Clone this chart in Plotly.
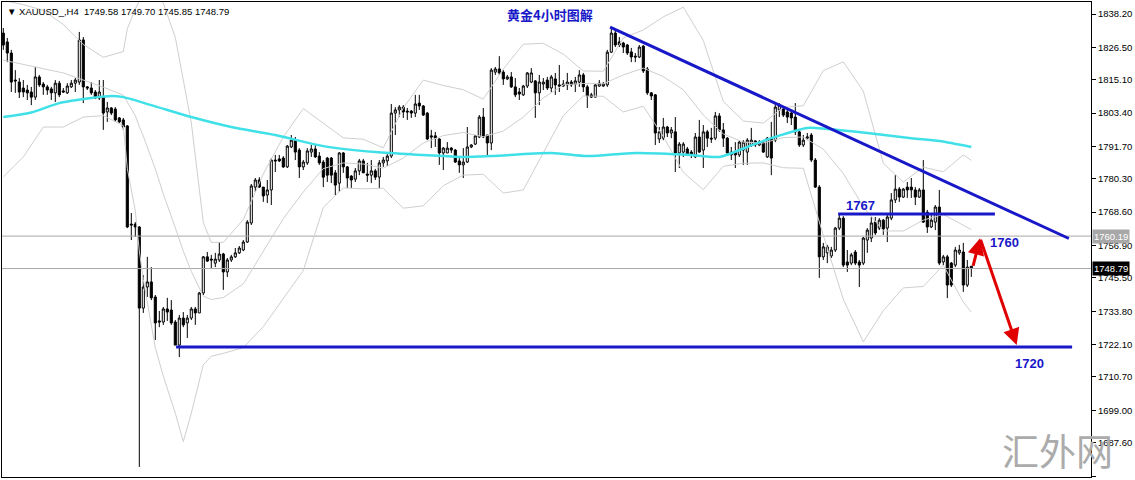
import plotly.graph_objects as go

# ---------------- data ----------------
opens = [1831.5,1828.4,1824.5,1815.0,1814.3,1812.2,1811.5,1810.8,1809.0,1816.1,
1813.6,1812.6,1811.9,1810.5,1813.9,1811.2,1810.5,1812.6,1813.9,1814.3,
1829.1,1812.6,1812.2,1810.8,1808.7,1809.0,1803.8,1805.2,1804.8,1801.7,
1801.0,1798.9,1764.4,1764.4,1763.4,1734.9,1742.3,1744.1,1738.8,1730.4,
1730.0,1734.6,1734.2,1730.0,1721.9,1731.4,1729.7,1731.4,1734.6,1733.2,
1740.2,1752.9,1752.1,1750.7,1751.8,1753.9,1747.6,1751.8,1752.9,1754.3,
1755.3,1758.1,1764.8,1777.4,1779.9,1777.4,1774.6,1776.4,1786.9,1787.3,
1787.6,1784.5,1791.5,1793.9,1790.4,1784.5,1785.9,1789.7,1790.8,1788.3,
1786.2,1787.6,1787.6,1782.4,1778.8,1789.4,1784.5,1781.3,1780.2,1783.1,
1786.6,1782.0,1781.6,1783.1,1780.9,1785.9,1786.6,1788.3,1803.4,1804.5,
1805.5,1804.1,1804.1,1803.4,1806.9,1805.9,1803.4,1795.4,1795.4,1794.3,
1789.4,1789.4,1791.1,1790.4,1786.6,1785.2,1786.2,1791.5,1792.5,1795.0,
1802.0,1795.7,1792.9,1817.8,1818.9,1817.8,1815.4,1816.1,1812.6,1810.8,
1809.8,1812.9,1814.3,1814.7,1810.5,1813.6,1815.0,1812.2,1815.4,1813.3,
1812.9,1813.3,1814.3,1813.6,1814.3,1816.8,1812.6,1809.8,1809.0,1812.9,
1812.9,1813.3,1824.8,1831.5,1828.4,1828.0,1827.3,1824.9,1823.4,1823.1,
1826.9,1818.9,1810.5,1809.8,1794.3,1794.6,1798.5,1796.4,1796.8,1789.4,
1789.7,1790.8,1789.7,1788.0,1795.0,1790.4,1796.8,1794.6,1794.6,1802.4,
1797.5,1794.6,1789.7,1789.7,1788.7,1790.4,1789.7,1792.2,1793.6,1792.2,
1793.2,1788.0,1794.6,1793.9,1804.5,1804.8,1803.8,1803.4,1802.0,1796.8,
1792.2,1794.6,1795.7,1786.9,1777.4,1752.9,1754.3,1753.2,1755.3,1763.0,
1766.5,1751.1,1750.7,1754.6,1751.1,1750.7,1758.8,1759.5,1765.1,1763.0,
1765.8,1763.0,1766.5,1772.9,1776.7,1773.9,1777.4,1777.4,1776.4,1773.9,
1776.4,1768.6,1763.4,1765.1,1770.4,1751.1,1752.9,1750.7,1750.0,1754.3,
1754.6,1743.0,1749.58]
highs = [1833.3,1829.8,1825.6,1818.5,1815.7,1815.0,1813.3,1812.6,1819.6,1816.8,
1814.3,1813.3,1812.6,1815.0,1814.7,1812.2,1813.9,1815.0,1815.7,1831.9,
1830.1,1812.9,1814.3,1811.5,1815.0,1815.0,1807.3,1805.5,1805.5,1802.0,
1801.7,1799.2,1768.3,1765.1,1763.7,1746.5,1752.9,1749.3,1739.5,1733.9,
1735.3,1738.5,1737.7,1730.7,1732.5,1733.5,1732.5,1735.3,1735.3,1740.6,
1753.2,1754.6,1753.6,1754.3,1758.1,1754.3,1752.5,1753.6,1756.0,1756.7,
1758.8,1765.8,1778.5,1780.6,1780.9,1777.4,1779.9,1787.6,1788.7,1788.7,
1788.3,1792.2,1795.7,1795.0,1791.1,1786.9,1791.1,1792.2,1792.2,1789.7,
1786.9,1788.0,1788.0,1783.4,1789.7,1789.7,1784.8,1781.6,1784.1,1787.3,
1787.3,1785.9,1786.9,1783.8,1786.9,1788.0,1789.0,1806.6,1805.5,1806.2,
1806.2,1805.2,1804.5,1809.8,1809.8,1806.2,1803.8,1797.5,1796.8,1794.6,
1791.5,1793.2,1791.5,1790.8,1787.6,1791.1,1798.5,1792.5,1795.7,1802.7,
1805.2,1795.7,1819.2,1819.6,1823.4,1818.5,1816.8,1817.8,1815.7,1812.2,
1813.3,1817.8,1819.2,1815.0,1816.8,1815.7,1816.1,1816.8,1817.5,1820.3,
1815.0,1817.5,1815.0,1816.1,1818.5,1817.5,1813.3,1810.5,1813.6,1815.0,
1814.3,1825.6,1833.6,1832.6,1830.1,1828.4,1827.7,1826.3,1824.5,1827.3,
1827.3,1819.6,1810.8,1810.1,1798.5,1801.7,1798.9,1798.5,1802.0,1793.2,
1793.2,1791.5,1790.4,1796.4,1801.0,1799.2,1797.5,1798.2,1803.8,1803.4,
1799.9,1795.0,1791.5,1793.2,1793.9,1793.9,1794.6,1798.2,1793.9,1793.9,
1793.9,1795.0,1800.3,1807.3,1806.9,1805.2,1804.5,1803.8,1806.9,1797.5,
1795.7,1796.4,1796.4,1787.6,1778.1,1757.8,1757.1,1756.4,1763.4,1767.9,
1767.2,1755.3,1754.3,1755.3,1751.8,1759.9,1763.0,1766.9,1766.9,1766.5,
1766.2,1767.6,1775.3,1781.6,1777.4,1777.1,1779.2,1780.6,1777.4,1777.1,
1786.9,1769.4,1768.3,1771.1,1776.4,1753.6,1753.6,1751.1,1756.4,1757.1,
1757.8,1751.8,1749.70]
lows = [1825.6,1821.3,1810.8,1810.5,1808.7,1809.0,1808.0,1806.2,1808.0,1812.6,
1809.8,1809.8,1808.0,1807.3,1809.0,1810.5,1810.1,1812.2,1810.8,1813.3,
1806.9,1811.5,1809.8,1808.3,1808.0,1797.5,1800.3,1802.7,1800.3,1799.9,
1797.5,1763.0,1758.8,1759.9,1679.1,1733.2,1738.8,1737.7,1723.7,1728.2,
1729.0,1730.4,1729.0,1721.9,1717.7,1728.2,1724.4,1730.7,1729.0,1733.2,
1739.5,1751.1,1749.0,1749.3,1751.1,1741.3,1745.8,1751.1,1752.5,1753.9,
1754.9,1757.8,1764.1,1775.7,1777.1,1772.2,1771.8,1771.1,1782.7,1786.2,
1784.1,1784.1,1791.1,1786.9,1780.6,1783.4,1785.2,1788.0,1787.6,1785.2,
1777.4,1779.2,1778.8,1774.6,1775.7,1782.4,1777.1,1777.1,1779.2,1781.6,
1782.4,1779.2,1778.8,1779.9,1777.1,1784.5,1784.8,1787.6,1795.7,1802.0,
1801.7,1801.0,1801.7,1802.0,1804.5,1802.4,1793.9,1791.1,1791.5,1785.2,
1783.4,1789.4,1789.4,1785.9,1782.4,1780.6,1785.9,1791.1,1792.2,1794.6,
1794.6,1788.0,1790.4,1816.8,1816.8,1813.3,1815.0,1812.2,1809.0,1808.0,
1809.4,1812.2,1813.9,1801.7,1806.2,1811.5,1811.5,1810.8,1809.8,1810.8,
1812.6,1811.5,1812.6,1810.8,1812.6,1810.8,1805.2,1808.7,1809.0,1812.6,
1812.6,1812.6,1824.5,1826.6,1826.6,1824.5,1823.8,1821.3,1821.3,1822.7,
1817.5,1809.8,1808.0,1792.2,1792.9,1793.9,1795.0,1794.6,1782.7,1784.1,
1788.0,1788.7,1787.6,1787.6,1789.4,1784.1,1791.5,1792.9,1793.9,1796.8,
1791.5,1788.7,1786.9,1784.1,1788.0,1785.2,1785.2,1791.5,1791.5,1791.8,
1789.4,1787.6,1781.6,1793.2,1802.0,1802.0,1799.9,1799.2,1795.7,1791.5,
1791.5,1793.9,1786.2,1777.1,1745.5,1751.8,1750.7,1752.5,1754.6,1762.3,
1749.3,1747.6,1750.0,1750.0,1742.3,1750.0,1754.3,1758.1,1760.6,1762.3,
1760.6,1758.1,1765.8,1771.8,1772.2,1773.6,1773.6,1773.6,1771.1,1773.6,
1764.8,1761.3,1763.0,1762.3,1750.0,1750.0,1738.4,1742.3,1749.3,1753.6,
1740.6,1742.3,1745.85]
closes = [1827.3,1824.5,1814.3,1814.7,1810.8,1810.8,1810.5,1809.0,1816.1,1813.3,
1812.6,1811.5,1810.5,1813.9,1809.8,1810.8,1812.9,1813.9,1815.0,1829.1,
1812.6,1812.2,1810.5,1808.7,1810.8,1803.4,1805.2,1803.4,1801.0,1800.3,
1798.5,1763.4,1764.1,1763.4,1734.9,1742.3,1744.1,1738.5,1729.7,1730.0,
1734.6,1733.5,1729.7,1721.9,1731.4,1729.0,1731.4,1734.6,1733.2,1740.2,
1752.9,1751.4,1751.8,1752.1,1753.9,1747.6,1751.8,1752.9,1754.3,1756.0,
1758.1,1765.1,1777.8,1779.9,1777.4,1774.3,1776.4,1786.9,1786.6,1786.6,
1784.5,1791.8,1793.9,1789.7,1784.5,1786.2,1790.1,1790.8,1788.0,1785.9,
1780.9,1781.6,1781.6,1778.1,1789.4,1784.5,1780.6,1779.9,1783.1,1786.6,
1782.4,1781.6,1783.1,1780.9,1785.9,1786.9,1788.3,1803.4,1804.5,1805.5,
1803.8,1803.8,1803.4,1806.6,1805.9,1802.7,1794.3,1795.0,1794.6,1789.4,
1791.1,1791.1,1790.4,1786.2,1785.2,1786.2,1791.5,1792.2,1795.4,1802.0,
1795.0,1792.9,1818.5,1818.9,1817.5,1815.4,1816.1,1812.6,1809.8,1810.1,
1812.9,1817.5,1817.5,1810.5,1814.3,1814.3,1812.2,1816.1,1813.3,1812.9,
1813.6,1814.3,1813.3,1814.7,1816.8,1812.6,1809.4,1809.0,1813.3,1813.9,
1813.6,1824.8,1831.5,1827.3,1827.3,1826.6,1824.5,1823.1,1823.1,1826.6,
1818.2,1810.5,1809.4,1796.4,1796.8,1798.5,1796.4,1797.5,1789.4,1792.5,
1792.5,1789.0,1788.7,1795.0,1789.7,1796.8,1794.6,1794.3,1802.4,1797.5,
1794.6,1789.4,1788.7,1788.7,1793.2,1793.2,1793.9,1793.9,1792.2,1793.2,
1789.7,1794.6,1787.6,1805.5,1806.2,1802.7,1802.0,1801.7,1796.8,1792.2,
1793.9,1795.0,1786.9,1777.4,1752.9,1756.4,1756.4,1755.3,1763.0,1766.5,
1750.0,1750.0,1753.6,1750.7,1750.0,1759.5,1762.3,1764.8,1761.3,1765.8,
1762.7,1766.9,1772.9,1776.7,1773.9,1776.7,1776.4,1776.4,1773.9,1776.4,
1765.1,1763.4,1765.8,1770.4,1750.7,1752.9,1743.0,1743.0,1755.3,1755.3,
1743.0,1749.3,1748.79]
bars = list(range(len(closes)))

# Bollinger band lines, sampled along the bars
band_idx = [0,5,10,15,20,25,30,31,33,34,35,38,40,43,45,47,50,52,55,60,65,70,75,80,85,90,
            95,100,105,110,115,120,125,130,135,140,145,150,155,160,165,170,175,180,185,
            190,195,200,205,210,215,220,225,230,235,240,242]
band_mid = [1822,1820.5,1819,1817.5,1815,1812.5,1809.7,1807.3,1802.5,1798.7,1795.3,1783.8,
            1775.0,1763.1,1754.9,1747.8,1739.1,1737.9,1738.6,1743.4,1754.8,1766.3,1775.7,
            1783.9,1785.9,1785.5,1784.1,1787.6,1792.9,1795.5,1796.6,1795.1,1797.1,1802.0,
            1808.7,1813.3,1813.8,1813.7,1816.8,1819.2,1816.2,1811.6,1802.7,1796.1,1793.2,
            1792.9,1794.8,1795.0,1790.7,1782.2,1770.5,1762.0,1762.0,1765.8,1767.8,1763.9,1762.5]
band_up = [1843,1841.5,1839.5,1834.5,1827.5,1823,1825,1833,1840,1843,1845.5,1846.4,1842,
           1830,1815,1800,1765,1758,1758,1766,1782,1795,1805,1800,1794.7,1794.2,1791.2,
           1805.2,1815,1813.1,1811.6,1808.3,1818.9,1827.6,1827.9,1824.1,1818.2,1818.1,
           1829.8,1832.6,1837.2,1840.6,1828.9,1807.5,1800.6,1799.9,1805.4,1806,1818.3,
           1821.4,1811.1,1785.8,1779.2,1784.4,1782.8,1788.7,1786.8]
band_low = [1781,1788,1798.5,1798.5,1802,1802.5,1799,1784,1769,1755,1745,1721,1711,1698,
            1688,1698,1715,1718,1719,1721,1728.4,1738.3,1748.1,1770.3,1777.1,1776.8,1777,
            1770,1770.8,1777.9,1781.6,1781.9,1775.3,1776.4,1789.5,1802.5,1809.4,1809.3,
            1803.8,1805.8,1795.2,1782.6,1776.5,1784.7,1785.8,1785.9,1784.2,1784,1760.5,
            1738,1723,1734,1742,1742.5,1750,1737,1733.5]

# cyan moving average, sampled
ma_idx = [0,7,14,22,27,30,37,47,57,68,80,93,105,115,122,137,146,158,172,179,186,192,201,
          206,216,227,234,242]
ma_val = [1802.0,1803.6,1806.9,1808.7,1809.4,1809.0,1806.2,1802.0,1798.5,1795.7,1791.8,
          1789.7,1788.7,1788.0,1788.3,1789.4,1788.3,1789.4,1788.7,1788.0,1791.5,1794.6,
          1798.2,1797.8,1796.4,1794.6,1793.6,1791.5]

ytick_vals = [1838.20,1826.50,1815.10,1803.40,1791.70,1780.30,1768.60,1756.90,1745.50,
              1733.80,1722.10,1710.70,1699.00,1687.60,1675.90]

# drawn objects
trend_x = [151.7, 266.4]
trend_y = [1833.6, 1759.35]
support_x = [43.2, 267.2]
support_level = 1721.2
resist_x = [208.7, 247.9]
resist_level = 1767.95
arrow_x = [242.35, 244.2, 253.35]
arrow_y = [1749.2, 1759.4, 1721.9]
hline_level = 1760.19
bid_level = 1748.79
header = "▼ XAUUSD_,H4  1749.58 1749.70 1745.85 1748.79"
title_text = "黄金4小时图解"
labels = [("1767", 214.2, 1771.1), ("1760", 250.4, 1757.8), ("1720", 256.5, 1715.3)]
watermark = "汇外网"

X_RANGE = [-0.325, 271.925]
Y_RANGE = [1675.57, 1842.42]

BLUE = "#1818C8"
AXFONT = "Liberation Sans, Arial, sans-serif"

fig = go.Figure()

# gray horizontal lines (behind)
for lvl in (hline_level, bid_level):
    fig.add_trace(go.Scatter(x=X_RANGE, y=[lvl, lvl], mode="lines",
                             line=dict(color="#a8a8a8", width=1), hoverinfo="skip",
                             showlegend=False))

fig.add_trace(go.Candlestick(
    x=bars, open=opens, high=highs, low=lows, close=closes,
    increasing=dict(fillcolor="white", line=dict(color="black", width=1)),
    decreasing=dict(fillcolor="black", line=dict(color="black", width=1)),
    whiskerwidth=0, showlegend=False))

for arr in (band_up, band_mid, band_low):
    fig.add_trace(go.Scatter(x=band_idx, y=arr, mode="lines",
                             line=dict(color="#cfcfcf", width=1), hoverinfo="skip",
                             showlegend=False))

fig.add_trace(go.Scatter(x=ma_idx, y=ma_val, mode="lines",
                         line=dict(color="#40E0E8", width=2.5, shape="spline", smoothing=0.8),
                         showlegend=False))

# blue drawn lines
fig.add_trace(go.Scatter(x=trend_x, y=trend_y, mode="lines",
                         line=dict(color=BLUE, width=3), showlegend=False))
fig.add_trace(go.Scatter(x=support_x, y=[support_level]*2, mode="lines",
                         line=dict(color=BLUE, width=3), showlegend=False))
fig.add_trace(go.Scatter(x=resist_x, y=[resist_level]*2, mode="lines",
                         line=dict(color=BLUE, width=3), showlegend=False))

annotations = []
for i in range(2):
    annotations.append(dict(x=arrow_x[i+1], y=arrow_y[i+1], ax=arrow_x[i], ay=arrow_y[i],
                            xref="x", yref="y", axref="x", ayref="y", text="",
                            showarrow=True, arrowhead=2, arrowsize=1.1, arrowwidth=3,
                            arrowcolor="#E00000", standoff=0))
for txt, lx, ly in labels:
    annotations.append(dict(x=lx, y=ly, xref="x", yref="y", text=f"<b>{txt}</b>",
                            showarrow=False, font=dict(family="Arial, Liberation Sans", size=13,
                                                       color=BLUE)))
annotations.append(dict(x=136.6, y=1837.9, xref="x", yref="y", text=f"<b>{title_text}</b>",
                        showarrow=False, font=dict(family="Noto Sans CJK SC", size=13,
                                                   color=BLUE)))
annotations.append(dict(x=0.003, y=1, xref="paper", yref="paper", xanchor="left",
                        yanchor="top", yshift=-2, text=header, showarrow=False,
                        font=dict(family=AXFONT, size=9.5, color="black")))
annotations.append(dict(x=1, y=hline_level, xref="paper", yref="y", xanchor="left",
                        xshift=1, text=f"{hline_level:.2f}", showarrow=False, bgcolor="#a8a8a8",
                        borderpad=1, font=dict(family=AXFONT, size=9.5, color="white")))
annotations.append(dict(x=1, y=bid_level, xref="paper", yref="y", xanchor="left",
                        xshift=1, text=f"{bid_level:.2f}", showarrow=False, bgcolor="black",
                        borderpad=1, font=dict(family=AXFONT, size=9.5, color="white")))
annotations.append(dict(x=0.969, y=0.057, xref="paper", yref="paper", xanchor="center",
                        yanchor="middle", text=watermark, showarrow=False,
                        font=dict(family="Noto Sans CJK SC", size=37, color="#ababab")))

fig.update_layout(
    width=1135, height=480,
    margin=dict(l=2, r=44, t=2, b=3),
    paper_bgcolor="white", plot_bgcolor="white",
    showlegend=False, boxgap=0.25,
    annotations=annotations,
    xaxis=dict(range=X_RANGE, showgrid=False, zeroline=False, showticklabels=False,
               ticks="", showline=True, linecolor="black", linewidth=1, mirror=True,
               rangeslider=dict(visible=False), fixedrange=True),
    yaxis=dict(range=Y_RANGE, side="right", showgrid=False, zeroline=False,
               tickvals=ytick_vals, ticktext=[f"{v:.2f}" for v in ytick_vals],
               ticks="outside", ticklen=4, tickcolor="black",
               tickfont=dict(family=AXFONT, size=9.5, color="black"),
               showline=True, linecolor="black", linewidth=1, mirror=True,
               automargin=False),
)

fig.write_html("out.html", config={"displayModeBar": False},
               post_script="document.body.style.margin='0px';document.body.style.overflow='hidden';")
